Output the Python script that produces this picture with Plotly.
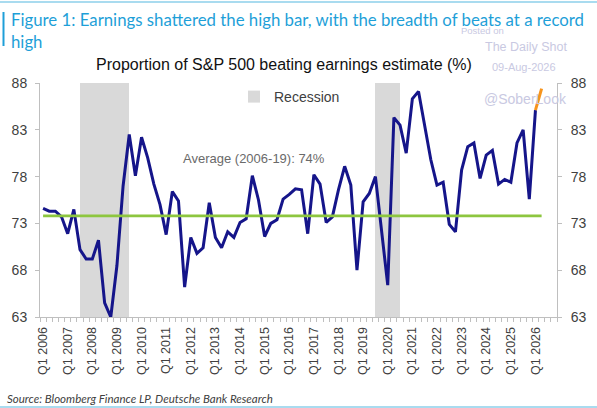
import plotly.graph_objects as go

# ---------------- data ----------------
quarters = [f"Q{q} {y}" for y in range(2006, 2027) for q in range(1, 5)][:82]

beat_pct = [
    74.6, 74.3, 74.3, 73.7, 71.9, 74.5, 70.2, 69.2, 69.2, 71.2,
    64.5, 63.0, 68.5, 77.0, 82.5, 78.1, 82.2, 80.0, 77.2, 75.0,
    71.8, 76.4, 75.4, 66.2, 71.5, 69.8, 70.4, 75.2, 71.5, 70.4,
    72.1, 71.5, 73.1, 73.5, 78.1, 75.5, 71.6, 73.0, 73.4, 75.6,
    76.1, 76.7, 76.6, 71.9, 78.2, 77.2, 73.1, 73.7, 76.6, 79.1,
    77.1, 68.0, 75.3, 76.2, 78.0, 72.2, 66.4, 84.3, 83.5, 80.5,
    86.3, 87.1, 83.5, 79.8, 77.1, 77.4, 72.9, 72.1, 78.7, 81.2,
    81.6, 77.8, 80.3, 80.8, 77.2, 77.7, 77.4, 81.6, 83.0, 75.6,
    85.1, 87.4,
]

average_2006_19 = 73.8

recession_quarters = [
    "Q3 2007", "Q4 2007", "Q1 2008", "Q2 2008",
    "Q3 2008", "Q4 2008", "Q1 2009", "Q2 2009",
    "Q3 2019", "Q4 2019", "Q1 2020", "Q2 2020",
]

tick_labels = [
    "Q1 2006", "Q1 2007", "Q1 2008", "Q1 2009", "Q1 2010", "Q1 2011",
    "Q1 2012", "Q1 2013", "Q1 2014", "Q1 2015", "Q1 2016", "Q1 2017",
    "Q1 2018", "Q1 2019", "Q1 2020", "Q1 2021", "Q1 2022", "Q1 2023",
    "Q1 2024", "Q1 2025", "Q1 2026",
]

y_ticks = [63, 68, 73, 78, 83, 88]

# ---------------- mapping ----------------
pos = {q: i for i, q in enumerate(quarters)}
x_all = [pos[q] for q in quarters]
n_final = len(quarters) - 1  # last quarter is the partial (orange) one

W, H = 597, 408
ML, MR, MT, MB = 40, 40, 83, 91
PW, PH = W - ML - MR, H - MT - MB


def px(x):
    return (x - ML) / PW


def py(y):
    return (H - MB - y) / PH


NAVY = "#15158a"
ORANGE = "#f7941d"
GREEN = "#8dc63f"
GREY_BAR = "#d9d9d9"
AXIS = "#bfbfbf"
TXT = "#404040"
WM = "#c9c9e2"

fig = go.Figure()

fig.add_trace(go.Bar(
    x=[pos[q] for q in recession_quarters],
    y=[y_ticks[-1]] * len(recession_quarters),
    width=1, offset=0,
    marker=dict(color=GREY_BAR, line=dict(width=0)),
    name="Recession", showlegend=True, hoverinfo="skip",
))

fig.add_trace(go.Scatter(
    x=x_all[:n_final], y=beat_pct[:n_final], mode="lines",
    line=dict(color=NAVY, width=3), showlegend=False,
))
fig.add_trace(go.Scatter(
    x=x_all[n_final - 1:], y=beat_pct[n_final - 1:], mode="lines",
    line=dict(color=ORANGE, width=3), showlegend=False,
))
fig.add_trace(go.Scatter(
    x=x_all, y=[average_2006_19] * len(x_all), mode="lines",
    line=dict(color=GREEN, width=2.6), showlegend=False, yaxis="y2",
))

axis_font = dict(family="Liberation Sans, Arial, sans-serif", size=14, color=TXT)

fig.update_layout(
    width=W, height=H,
    margin=dict(l=ML, r=MR, t=MT, b=MB, autoexpand=False),
    paper_bgcolor="white", plot_bgcolor="white",
    barmode="overlay", bargap=0,
    showlegend=True,
    legend=dict(
        x=px(234), y=py(97), xanchor="left", yanchor="middle",
        bgcolor="rgba(0,0,0,0)", borderwidth=0,
        font=dict(family="Liberation Sans, Arial, sans-serif", size=14, color=TXT),
        itemwidth=30,
    ),
    xaxis=dict(
        range=[-0.5, 83.5],
        automargin=False,
        tickmode="array",
        tickvals=[pos[t] for t in tick_labels],
        ticktext=tick_labels,
        tickangle=-90,
        ticks="",
        ticklabelstandoff=4,
        tickfont=dict(family="Liberation Sans, Arial, sans-serif", size=12.5, color=TXT),
        showline=True, linecolor=AXIS, linewidth=1,
        showgrid=False, zeroline=False,
        minor=dict(tickmode="linear", tick0=-0.5, dtick=1, ticks="outside",
                   ticklen=4, tickcolor=AXIS, tickwidth=1, showgrid=False),
    ),
    yaxis=dict(
        range=[63, 88], tickmode="array", tickvals=y_ticks,
        automargin=False,
        ticks="outside", ticklen=4, tickcolor=AXIS,
        ticklabelstandoff=5,
        tickfont=axis_font,
        showline=True, linecolor=AXIS, linewidth=1,
        showgrid=False, zeroline=False,
    ),
    yaxis2=dict(
        range=[63, 88], tickmode="array", tickvals=y_ticks,
        automargin=False,
        overlaying="y", side="right",
        ticks="outside", ticklen=4, tickcolor=AXIS,
        ticklabelstandoff=6,
        tickfont=axis_font,
        showline=True, linecolor=AXIS, linewidth=1,
        showgrid=False, zeroline=False,
    ),
)

ann = []
ann.append(dict(
    x=px(9), y=py(7), xref="paper", yref="paper", xanchor="left", yanchor="top",
    align="left", showarrow=False,
    text="Figure 1: Earnings shattered the high bar, with the breadth of beats at a record<br>high",
    font=dict(family="Lato, sans-serif", size=16.8, color="#1e9fd8"),
))
ann.append(dict(
    x=px(284), y=py(64), xref="paper", yref="paper", xanchor="center", yanchor="middle",
    showarrow=False, text="Proportion of S&P 500 beating earnings estimate (%)",
    font=dict(family="Liberation Sans, Arial, sans-serif", size=16, color="#111111"),
))
ann.append(dict(
    x=px(181), y=py(158), xref="paper", yref="paper", xanchor="left", yanchor="middle",
    showarrow=False, text="Average (2006-19): 74%",
    font=dict(family="Liberation Sans, Arial, sans-serif", size=13, color="#6a6a6a"),
))
ann.append(dict(
    x=px(5), y=py(398), xref="paper", yref="paper", xanchor="left", yanchor="middle",
    showarrow=False, text="<i>Source: Bloomberg Finance LP, Deutsche Bank Research</i>",
    font=dict(family="Lato, sans-serif", size=11.5, color=TXT),
))
for txt, cx, cy, sz in [("Posted on", 482, 31, 9.5), ("The Daily Shot", 526, 47, 12.5),
                        ("09-Aug-2026", 524, 67, 11), ("@SoberLook", 525, 99, 14)]:
    ann.append(dict(
        x=px(cx), y=py(cy), xref="paper", yref="paper", xanchor="center", yanchor="middle",
        showarrow=False, text=txt,
        font=dict(family="Liberation Sans, Arial, sans-serif", size=sz, color=WM),
    ))
fig.update_layout(annotations=ann)

# frame decorations
fig.add_shape(type="line", xref="paper", yref="paper", x0=px(0), x1=px(W), y0=py(2), y1=py(2),
              line=dict(color="#a9dbef", width=2))
fig.add_shape(type="line", xref="paper", yref="paper", x0=px(3.5), x1=px(3.5), y0=py(12), y1=py(46),
              line=dict(color="#1e9fd8", width=2))
fig.add_shape(type="line", xref="paper", yref="paper", x0=px(0), x1=px(W), y0=py(407), y1=py(407),
              line=dict(color="#a9dbef", width=2))

fig.write_html(
    "out.html",
    config={"displayModeBar": False},
    post_script="document.body.style.margin='0';document.body.style.overflow='hidden';",
)
